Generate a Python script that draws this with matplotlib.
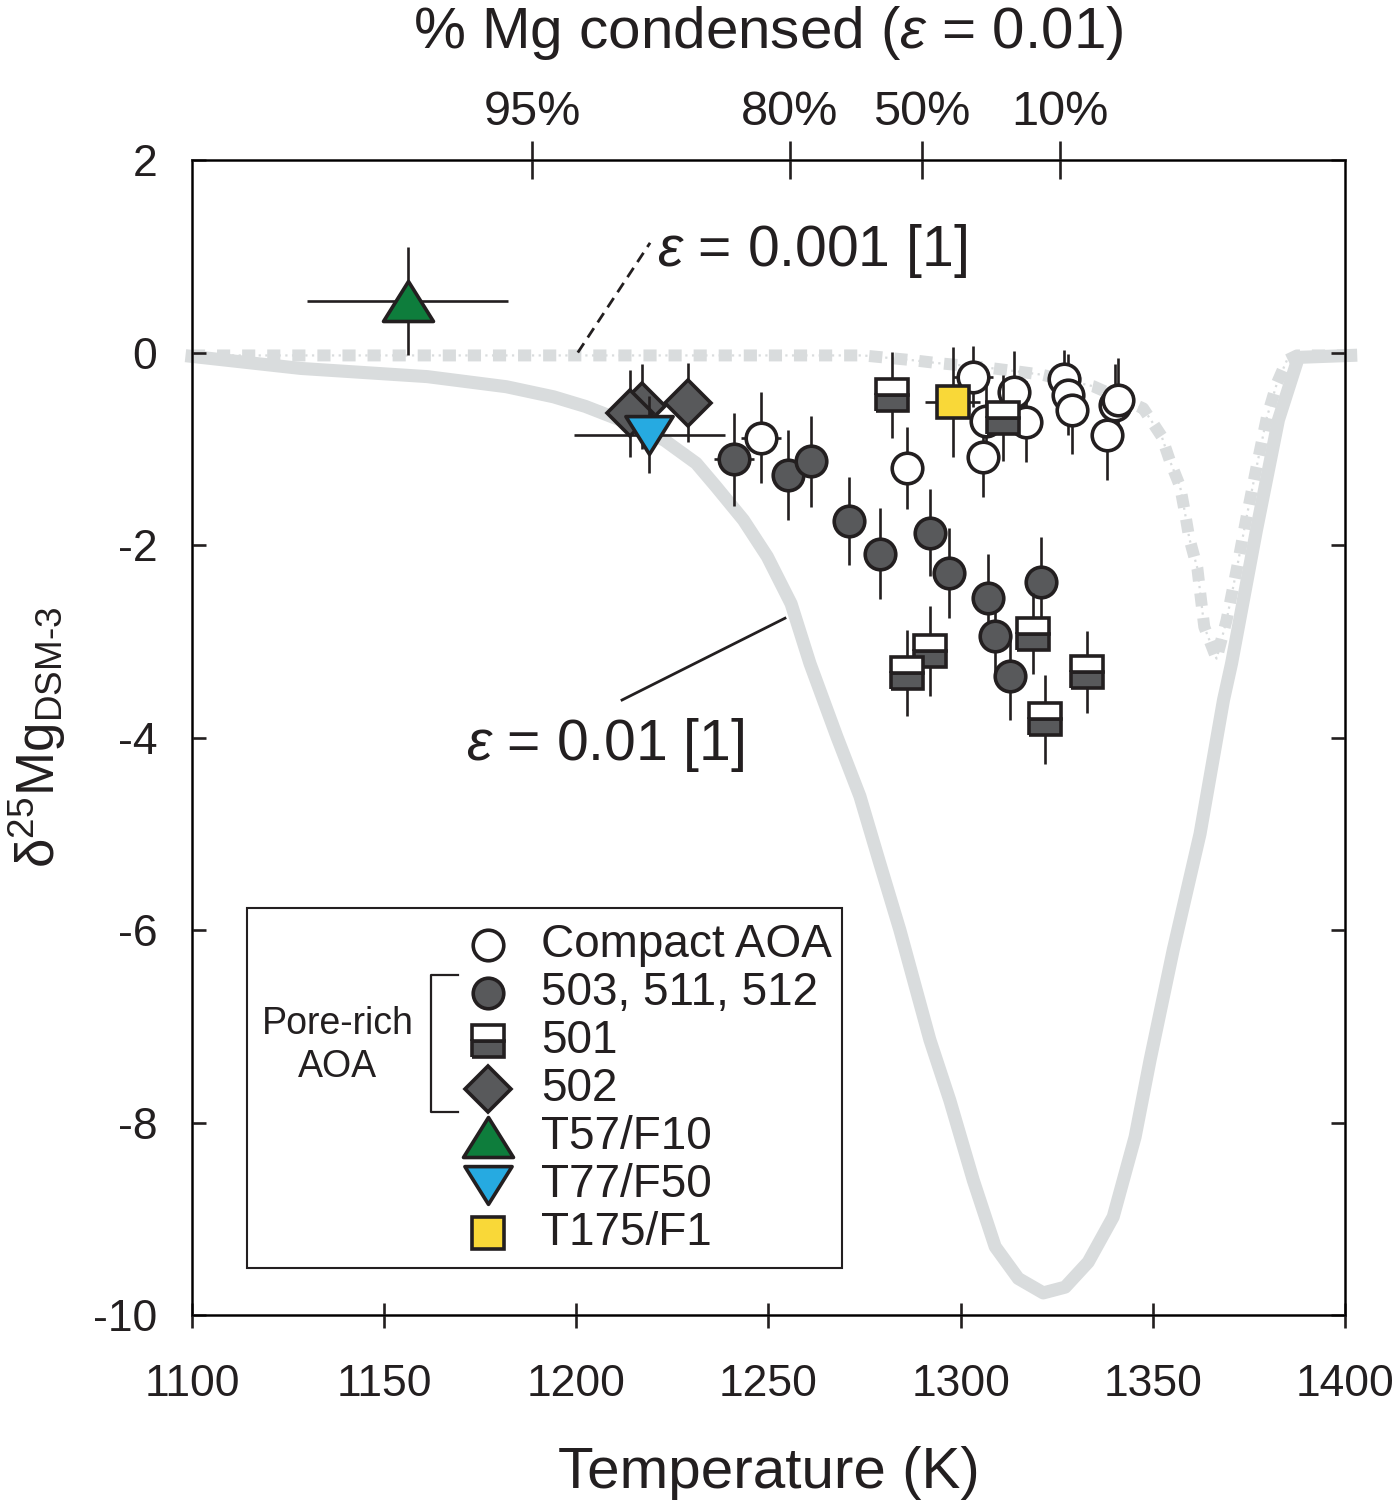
import numpy as np
import matplotlib
matplotlib.use("Agg")
import matplotlib.pyplot as plt
from matplotlib.patches import Rectangle
from matplotlib.path import Path

plt.rcParams['font.family'] = ['Liberation Sans', 'DejaVu Sans']
plt.rcParams['mathtext.fontset'] = 'custom'
plt.rcParams['mathtext.rm'] = 'Liberation Sans'
plt.rcParams['mathtext.it'] = 'Liberation Sans:italic'

# ---- model curves (Rayleigh condensation) ----
eps01_T = [1100, 1128.3, 1161.2, 1181.8, 1194.1, 1202.4, 1212.7, 1222.9, 1231.2, 1236.3,
           1243.5, 1249.7, 1255.9, 1260.8, 1267.8, 1273.8, 1279.0, 1284.2, 1292.0, 1297.2,
           1303.3, 1309.0, 1315.0, 1321.5, 1327.2, 1333.2, 1339.7, 1345.4, 1349.3, 1355.3,
           1362.3, 1368.4, 1370.5, 1377.0, 1382.7, 1387.9, 1401.5]
eps01_d = [-0.04, -0.165, -0.25, -0.355, -0.46, -0.56, -0.72, -0.91, -1.15, -1.39,
           -1.74, -2.12, -2.61, -3.23, -3.99, -4.61, -5.31, -6.0, -7.14, -7.77,
           -8.60, -9.29, -9.62, -9.77, -9.71, -9.45, -8.98, -8.15, -7.35, -6.21,
           -5.0, -3.61, -3.23, -1.84, -0.70, -0.05, -0.03]

eps001_T = [1100, 1274.6, 1287.6, 1294.1, 1307.6, 1315.5, 1321.1, 1334.5, 1347.5, 1352.3,
            1354.5, 1357.1, 1358.4, 1359.5, 1361.6, 1362.5, 1363.4, 1366.6, 1369.2, 1371.8,
            1374.4, 1377.0, 1379.7, 1382.3, 1384.9, 1387.5, 1401.5]
eps001_d = [-0.03, -0.03, -0.08, -0.11, -0.16, -0.2, -0.23, -0.35, -0.58, -0.87,
            -1.13, -1.39, -1.67, -1.93, -2.24, -2.55, -2.85, -3.18, -2.78, -2.26,
            -1.71, -1.19, -0.67, -0.32, -0.08, -0.03, -0.03]

# ---- samples ----
compact_T = [1248.0, 1286.0, 1303.1, 1305.9, 1306.7, 1314.0, 1317.0, 1327.0, 1328.0, 1329.0, 1338.0, 1340.2, 1341.0]
compact_d = [-0.885, -1.20, -0.25, -1.08, -0.71, -0.41, -0.72, -0.27, -0.44, -0.60, -0.86, -0.55, -0.49]
compact_yerr = [0.47, 0.43, 0.32, 0.42, 0.42, 0.43, 0.42, 0.30, 0.42, 0.45, 0.46, 0.43, 0.43]
compact_xerr = [5.2, 0, 5.2, 0, 0, 0, 0, 0, 0, 0, 0, 0, 0]

pore_T = [1241.0, 1255.0, 1261.1, 1271.0, 1279.0, 1292.0, 1297.0, 1307.0, 1309.0, 1312.9, 1320.9]
pore_d = [-1.11, -1.27, -1.13, -1.75, -2.09, -1.87, -2.29, -2.55, -2.94, -3.36, -2.38]
pore_yerr = [0.48, 0.47, 0.47, 0.46, 0.47, 0.45, 0.47, 0.46, 0.46, 0.46, 0.46]
pore_xerr = [5.2, 0, 0, 0, 0, 0, 0, 0, 0, 0, 0]

s501_T = [1282.1, 1311.0, 1286.0, 1292.0, 1318.9, 1322.0, 1332.8]
s501_d = [-0.44, -0.68, -3.33, -3.10, -2.92, -3.81, -3.32]
s501_yerr = [0.45, 0.45, 0.45, 0.47, 0.42, 0.46, 0.43]

s502_T = [1217.1, 1214.0, 1229.0]
s502_d = [-0.56, -0.63, -0.52]
s502_yerr = [0.44, 0.45, 0.41]

t57_T, t57_d, t57_xerr, t57_yerr = [1156.1], [0.535], [26.2], [0.56]
t77_T, t77_d, t77_xerr, t77_yerr = [1219.0], [-0.854], [19.6], [0.40]
t175_T, t175_d, t175_xerr, t175_yerr = [1297.9], [-0.51], [7.2], [0.57]

top_T = [1188.5, 1255.6, 1290.0, 1325.9]
top_labels = ['95%', '80%', '50%', '10%']

dark = '#58595b'
ink = '#231f20'
curve_col = '#d9dcdd'
tri_up = Path([(0, 0.8), (-1, -0.8), (1, -0.8), (0, 0.8)], closed=True)
tri_dn = Path([(0, -0.8), (-1, 0.8), (1, 0.8), (0, -0.8)], closed=True)

fig = plt.figure(figsize=(13.93, 15), dpi=100)
ax = fig.add_axes([0.1378, 0.1233, 0.8277, 0.770])

# curves
ax.plot(eps01_T, eps01_d, color=curve_col, lw=9.4, solid_joinstyle='round', zorder=1, clip_on=False)
ax.plot(eps001_T, eps001_d, color=curve_col, lw=1.6, ls=(0, (1, 2)), zorder=1, clip_on=False)
ax.plot(eps001_T, eps001_d, color=curve_col, lw=8.6, ls=(0, (1.1, 1.0)),
        dash_capstyle='butt', zorder=1, clip_on=False)

ekw = dict(fmt='none', ecolor=ink, elinewidth=1.9, capsize=0)
mkw = dict(ls='none', mec=ink, mew=2.6)
ms_o, ms_s, ms_d, ms_tu, ms_td = 22, 23.5, 23, 36, 34

ax.errorbar(compact_T, compact_d, yerr=compact_yerr, xerr=compact_xerr, zorder=3, **ekw)
ax.plot(compact_T, compact_d, marker='o', ms=ms_o, mfc='white', zorder=4, **mkw)

ax.errorbar(pore_T, pore_d, yerr=pore_yerr, xerr=pore_xerr, zorder=5, **ekw)
ax.plot(pore_T, pore_d, marker='o', ms=ms_o, mfc=dark, zorder=6, **mkw)

ax.errorbar(s501_T, s501_d, yerr=s501_yerr, zorder=7, **ekw)
ax.plot(s501_T, s501_d, marker='s', ms=ms_s, fillstyle='bottom', mfc=dark,
        markerfacecoloralt='white', zorder=8, **mkw)

ax.errorbar(s502_T, s502_d, yerr=s502_yerr, zorder=9, **ekw)
ax.plot(s502_T, s502_d, marker='D', ms=ms_d, mfc=dark, zorder=10, **mkw)

ax.errorbar(t57_T, t57_d, yerr=t57_yerr, xerr=t57_xerr, zorder=11, **ekw)
ax.plot(t57_T, t57_d, marker=tri_up, ms=ms_tu, mfc='#0e7d3c', zorder=12, **mkw)

ax.errorbar(t77_T, t77_d, yerr=t77_yerr, xerr=t77_xerr, zorder=11, **ekw)
ax.plot(t77_T, t77_d, marker=tri_dn, ms=ms_td, mfc='#26aae1', zorder=12, **mkw)

ax.errorbar(t175_T, t175_d, yerr=t175_yerr, xerr=t175_xerr, zorder=11, **ekw)
ax.plot(t175_T, t175_d, marker='s', ms=ms_s, mfc='#f9d838', zorder=12, **mkw)

# annotations
ax.plot([1200.4, 1219.2], [0.0, 1.14], color=ink, lw=2.0, ls=(0, (4, 2.5)), zorder=2)
ax.text(1221, 1.06, r'$\varepsilon$ = 0.001 [1]', fontsize=41, va='center', ha='left', color=ink)
ax.plot([1211.9, 1254.3], [-3.61, -2.76], color=ink, lw=2.0, zorder=2)
ax.text(1171.3, -4.08, r'$\varepsilon$ = 0.01 [1]', fontsize=41, va='center', ha='left', color=ink)

# axes
ax.set_xlim(1100, 1400)
ax.set_ylim(-10, 2)
ax.set_xticks([1100, 1150, 1200, 1250, 1300, 1350, 1400])
ax.set_yticks([2, 0, -2, -4, -6, -8, -10])
ax.set_yticklabels(['2', '0', '-2', '-4', '-6', '-8', '-10'])
for s in ax.spines.values():
    s.set_linewidth(1.9)
    s.set_color(ink)
ax.tick_params(axis='x', direction='inout', length=18, width=1.9, labelsize=32, pad=26,
               top=False, colors=ink)
ax.tick_params(axis='y', direction='in', length=10, width=1.9, labelsize=32, pad=25,
               right=True, colors=ink)
ax.set_xlabel('Temperature (K)', fontsize=42, labelpad=30, color=ink)
ax.set_ylabel(r'δ$^{25}$Mg$_{\mathrm{DSM\text{-}3}}$', fontsize=38, labelpad=18, color=ink)

ax2 = ax.twiny()
ax2.set_xlim(ax.get_xlim())
ax2.set_xticks(top_T)
ax2.set_xticklabels(top_labels)
ax2.tick_params(axis='x', direction='inout', length=28, width=1.9, labelsize=35, pad=4, colors=ink)
ax2.set_xlabel(r'% Mg condensed ($\varepsilon$ = 0.01)', fontsize=42, labelpad=30, color=ink)

# legend (drawn by hand to include the bracket)
tr = ax.transAxes
ax.add_patch(Rectangle((0.0477, 0.0407), 0.516, 0.3117, transform=tr, fill=False,
                       lw=1.5, ec=ink, zorder=20))
leg_y = [0.3203, 0.2788, 0.2372, 0.1957, 0.1541, 0.1126, 0.0710]
leg_labels = ['Compact AOA', '503, 511, 512', '501', '502', 'T57/F10', 'T77/F50', 'T175/F1']
leg_styles = [dict(marker='o', ms=ms_o, mfc='white'),
              dict(marker='o', ms=ms_o, mfc=dark),
              dict(marker='s', ms=ms_s, fillstyle='bottom', mfc=dark, markerfacecoloralt='white'),
              dict(marker='D', ms=ms_d, mfc=dark),
              dict(marker=tri_up, ms=ms_tu, mfc='#0e7d3c'),
              dict(marker=tri_dn, ms=ms_td, mfc='#26aae1'),
              dict(marker='s', ms=ms_s, mfc='#f9d838')]
for yy, lab, st in zip(leg_y, leg_labels, leg_styles):
    ax.plot([0.2567], [yy], transform=tr, clip_on=False, zorder=21, **mkw, **st)
    ax.text(0.3027, yy, lab, transform=tr, fontsize=33, va='center', ha='left',
            color=ink, zorder=21)
ax.plot([0.2307, 0.2073, 0.2073, 0.2307], [0.2944, 0.2944, 0.1758, 0.1758],
        transform=tr, color=ink, lw=1.6, zorder=21)
ax.text(0.1266, 0.2338, 'Pore-rich\nAOA', transform=tr, fontsize=27, ha='center',
        va='center', linespacing=1.25, color=ink, zorder=21)

fig.savefig('out.png', dpi=100)
